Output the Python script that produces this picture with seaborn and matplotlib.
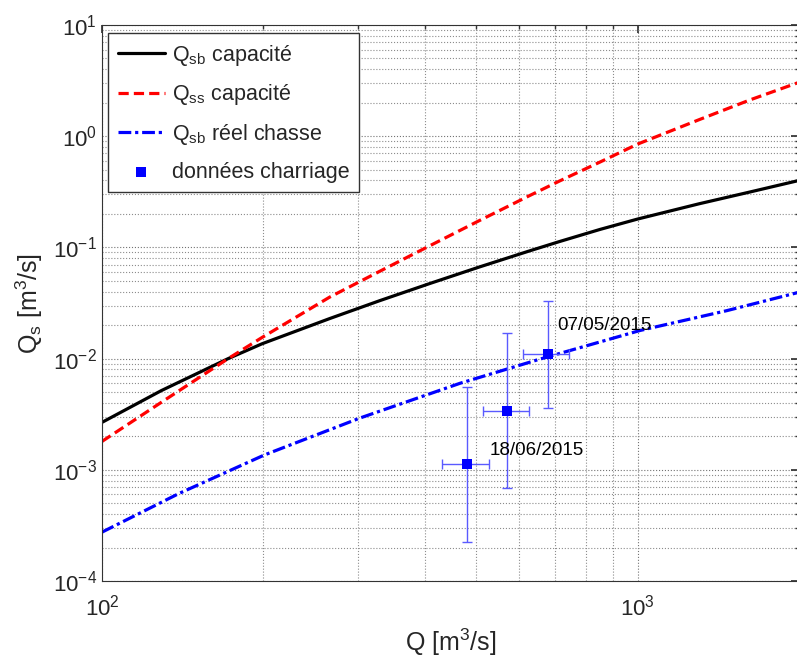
import numpy as np
import pandas as pd
import seaborn as sns
import matplotlib
matplotlib.use("Agg")
import matplotlib.pyplot as plt
from matplotlib.ticker import LogLocator, NullFormatter

# capacity curves
q_cap = [100, 129, 172, 199, 266, 330, 410, 506, 628, 715, 850, 1000, 1303, 1620, 2000]
qsb_cap = [0.00267, 0.00515, 0.0100, 0.0136, 0.0229, 0.0332, 0.0475, 0.0666, 0.093,
           0.113, 0.145, 0.180, 0.247, 0.315, 0.40]
qss_cap = [0.0018, 0.00404, 0.0100, 0.0155, 0.0357, 0.061, 0.104, 0.174, 0.292,
           0.396, 0.585, 0.85, 1.41, 2.12, 3.05]

# real flushing curve
q_reel = [100, 139, 201, 303, 466, 657, 1010, 1467, 2000]
qsb_reel = [0.000275, 0.00061, 0.00136, 0.00292, 0.0060, 0.0099, 0.0179, 0.027, 0.0395]

# measured bedload
q_obs = [480, 570, 680]
qs_obs = [0.00113, 0.00335, 0.0110]
q_lo = [432, 515, 610]
q_hi = [527, 628, 745]
qs_lo = [0.000226, 0.000679, 0.0036]
qs_hi = [0.0056, 0.0169, 0.0328]

dates = ["18/06/2015", "07/05/2015"]
date_q = [530, 707]
date_qs = [0.00148, 0.020]

sns.set_theme(style="white")
plt.rcParams["font.family"] = ["Liberation Sans", "DejaVu Sans"]
plt.rcParams["mathtext.fontset"] = "custom"
plt.rcParams["mathtext.rm"] = "Liberation Sans"
plt.rcParams["mathtext.it"] = "Liberation Sans:italic"
plt.rcParams["mathtext.default"] = "regular"

fig = plt.figure(figsize=(7.97, 6.57), dpi=100)
ax = fig.add_axes([102 / 797, 1 - 581 / 657, 697 / 797, 556 / 657])

cap = pd.DataFrame({"Q": q_cap, "sb": qsb_cap, "ss": qss_cap})
reel = pd.DataFrame({"Q": q_reel, "sb": qsb_reel})
obs = pd.DataFrame({"Q": q_obs, "Qs": qs_obs})

sns.lineplot(data=cap, x="Q", y="sb", ax=ax, color="black", lw=2.3,
             label=r"Q$_{sb}$ capacité")
sns.lineplot(data=cap, x="Q", y="ss", ax=ax, color="red", lw=2.3,
             linestyle=(0, (3.2, 1.6)), label=r"Q$_{ss}$ capacité")
sns.lineplot(data=reel, x="Q", y="sb", ax=ax, color="blue", lw=2.3,
             linestyle=(0, (4, 1.2, 1, 1.2)), label=r"Q$_{sb}$ réel chasse")

xerr = [np.array(q_obs) - np.array(q_lo), np.array(q_hi) - np.array(q_obs)]
yerr = [np.array(qs_obs) - np.array(qs_lo), np.array(qs_hi) - np.array(qs_obs)]
ax.errorbar(q_obs, qs_obs, xerr=xerr, yerr=yerr, fmt="none",
            ecolor="#5a5aff", elinewidth=1, capsize=3.5, capthick=1, zorder=3)
sns.scatterplot(data=obs, x="Q", y="Qs", ax=ax, marker="s", s=45,
                color="blue", edgecolor="blue", linewidth=0, zorder=4,
                label="données charriage")

for d, xq, yq in zip(dates, date_q, date_qs):
    ax.text(xq, yq, d, fontsize=13.5, ha="left", va="center", color="black")

ax.set_xscale("log")
ax.set_yscale("log")
ax.set_xlim(100, 2000)
ax.set_ylim(1e-4, 10)

ax.xaxis.set_major_locator(LogLocator(base=10, numticks=10))
ax.xaxis.set_minor_locator(LogLocator(base=10, subs=np.arange(2, 10), numticks=20))
ax.yaxis.set_major_locator(LogLocator(base=10, numticks=10))
ax.yaxis.set_minor_locator(LogLocator(base=10, subs=np.arange(2, 10), numticks=20))
ax.xaxis.set_minor_formatter(NullFormatter())
ax.yaxis.set_minor_formatter(NullFormatter())

ax.grid(True, which="major", color="0.45", linestyle=":", linewidth=0.8)
ax.grid(True, which="minor", color="0.55", linestyle=":", linewidth=0.8)

ax.tick_params(which="both", direction="in", top=True, right=True,
               labelsize=16, color="0.2")
ax.tick_params(which="major", length=6)
ax.tick_params(which="minor", length=3)
ax.tick_params(axis="x", pad=10)
for s in ax.spines.values():
    s.set_color("0.2")
    s.set_linewidth(0.8)

ax.set_xlabel(r"Q [m$^3$/s]", fontsize=18, labelpad=4)
ax.set_ylabel(r"Q$_s$ [m$^3$/s]", fontsize=18, labelpad=6)

leg = ax.legend(loc="upper left", bbox_to_anchor=(0.0086, 0.9856),
                borderaxespad=0, fontsize=15.5, handlelength=2.2,
                labelspacing=0.68, fancybox=False, framealpha=1,
                edgecolor="0.2", borderpad=0.45, handletextpad=0.3)
leg.get_frame().set_linewidth(1)

fig.savefig("out.png", dpi=100)
